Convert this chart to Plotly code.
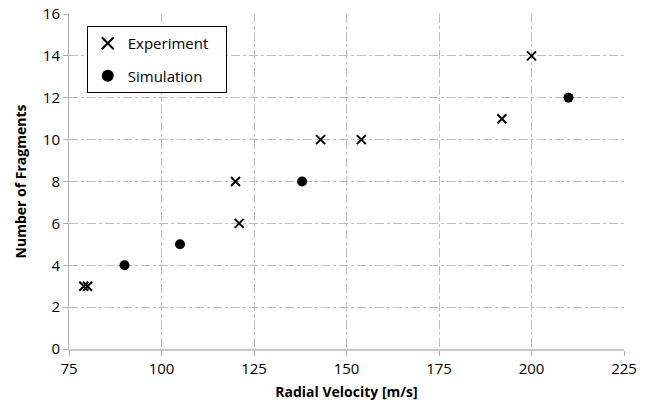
import plotly.graph_objects as go

exp_x = [79, 80, 120, 121, 143, 154, 192, 200]
exp_y = [3, 3, 8, 6, 10, 10, 11, 14]
sim_x = [90, 105, 138, 210]
sim_y = [4, 5, 8, 12]

x_ticks = [75, 100, 125, 150, 175, 200, 225]
y_ticks = [0, 2, 4, 6, 8, 10, 12, 14, 16]

FONT = "Open Sans, Liberation Sans, sans-serif"

fig = go.Figure()
fig.add_trace(go.Scatter(
    x=exp_x, y=exp_y, mode="markers", name="Experiment   ", legendgroup="a",
    marker=dict(symbol="x-thin", size=9, color="black",
                line=dict(color="black", width=2))))
fig.add_trace(go.Scatter(
    x=sim_x, y=sim_y, mode="markers", name="Simulation", legendgroup="b",
    marker=dict(symbol="circle", size=10, color="black")))

grid = dict(showgrid=True, gridcolor="#bdbdbd", griddash="dashdot", gridwidth=1)

fig.update_layout(
    width=648, height=408,
    margin=dict(l=69, r=24, t=14, b=59),
    plot_bgcolor="white", paper_bgcolor="white",
    font=dict(family=FONT, size=15, color="black"),
    showlegend=True,
    legend=dict(x=0.032, y=0.964, xanchor="left", yanchor="top",
                bgcolor="white", bordercolor="black", borderwidth=1,
                font=dict(size=15), tracegroupgap=10, traceorder="grouped",
                itemsizing="constant"),
    xaxis=dict(range=[75, 225], tickvals=x_ticks, ticks="outside", ticklen=5,
               tickcolor="#b0b0b0", showline=True, linecolor="#c8c8c8", linewidth=2,
               zeroline=False, automargin=False,
               title=dict(text="<b>Radial Velocity [m/s]</b>", font=dict(size=14), standoff=10),
               **grid),
    yaxis=dict(range=[0, 16], tickvals=y_ticks, ticks="outside", ticklen=5,
               tickcolor="#b0b0b0", showline=True, linecolor="#b0b0b0", linewidth=1,
               zeroline=False, automargin=False,
               title=dict(text="<b>Number of Fragments</b>", font=dict(size=14), standoff=12),
               **grid),
)

fig.write_html("out.html")
